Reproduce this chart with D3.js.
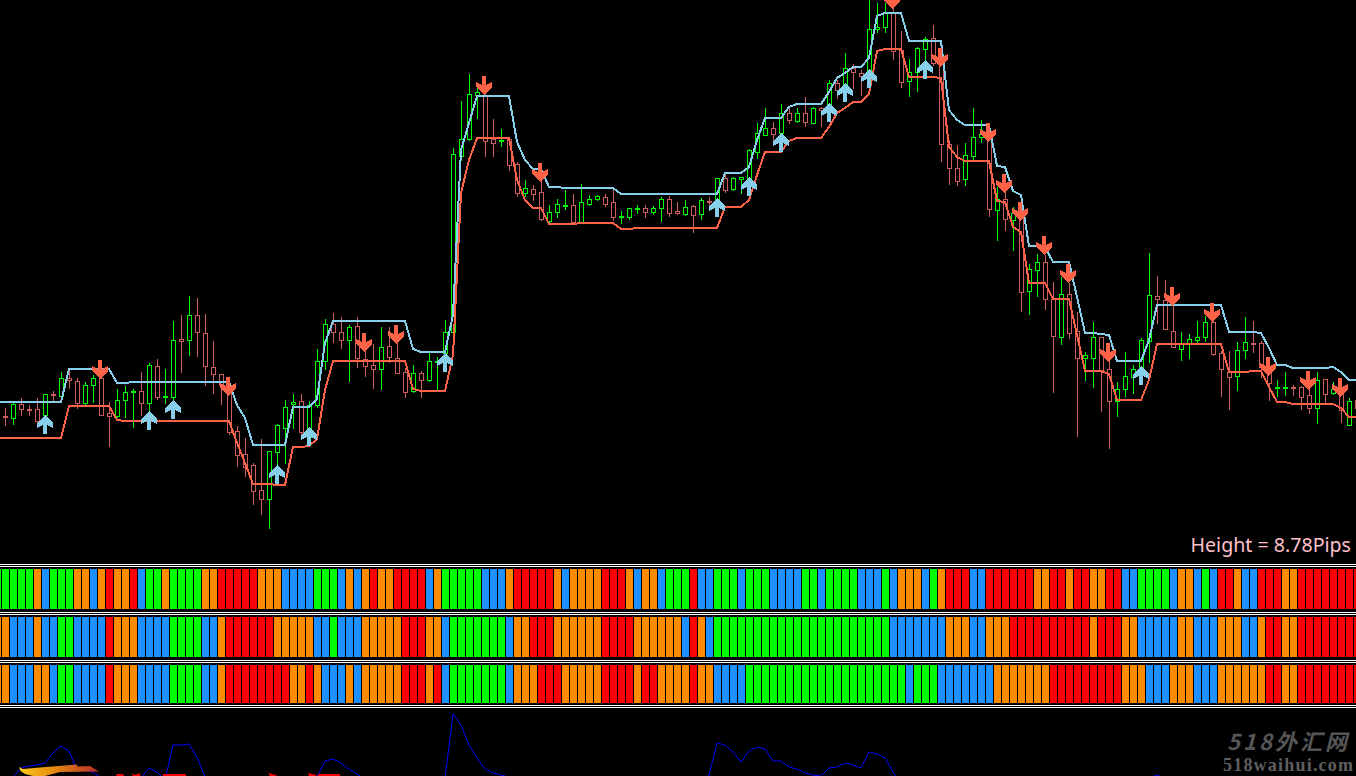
<!DOCTYPE html>
<html>
<head>
<meta charset="utf-8">
<style>
  html, body { margin: 0; padding: 0; background: #000; overflow: hidden; }
  svg { display: block; }
</style>
<script src="https://cdn.jsdelivr.net/npm/d3@7"></script>
</head>
<body>
<svg id="chart" width="1356" height="776"></svg>
<script>
// candles, ten bars a row, levels
var opens = [
  144,142,156,151,151,145,166,164,182,179,
  157,175,182,147,144,160,168,169,157,194,
  163,163,221,220,245,227,193,186,175,129,
  106,95,70,61,108,132,156,159,123,155,
  199,236,228,220,234,201,195,191,214,202,
  188,169,187,180,198,207,228,404,421,465,
  465,421,419,421,396,367,371,368,339,348,
  354,355,338,356,361,363,358,343,343,351,
  352,348,352,361,349,346,354,346,359,355,
  382,371,381,382,408,425,432,427,447,439,
  447,437,452,455,477,475,492,487,490,531,
  533,547,510,479,488,511,522,497,416,392,
  381,404,423,423,350,361,340,347,269,290,
  298,261,223,266,229,202,202,223,191,159,
  171,183,190,219,264,260,229,211,217,220,
  223,238,207,188,184,210,217,217,193,172,
  172,173,173,165,152,181,167,167,135,160
];
var closes = [
  143,156,151,150,139,166,165,182,180,157,
  175,182,145,144,160,168,169,157,195,163,
  164,220,219,245,228,194,186,175,128,105,
  93,69,61,109,135,153,158,128,155,199,
  236,228,220,233,202,194,191,213,203,187,
  168,187,180,199,199,228,406,421,466,468,
  419,417,420,395,367,372,366,341,348,356,
  355,338,358,361,364,356,343,344,352,352,
  348,352,361,347,347,353,345,360,358,382,
  370,382,383,410,427,432,426,447,440,447,
  438,452,450,477,470,492,488,484,531,533,
  547,509,478,488,512,521,497,416,392,379,
  405,423,426,351,361,341,347,268,291,298,
  261,224,266,227,202,205,223,190,159,171,
  184,191,220,265,261,231,213,217,221,223,
  238,206,191,183,210,218,216,193,177,173,
  173,172,163,152,180,166,171,150,159,152
];
var highs = [
  152,158,162,155,162,166,169,188,190,182,
  178,185,192,158,171,174,171,188,197,201,
  191,239,245,264,262,246,219,186,180,134,
  122,97,121,109,136,160,166,166,159,211,
  241,247,243,235,243,215,216,233,233,217,
  192,195,189,207,203,240,412,459,486,473,
  477,441,431,422,398,380,375,380,355,361,
  370,366,376,365,365,366,372,349,352,355,
  355,354,363,364,358,360,355,362,363,382,
  388,383,383,411,437,452,438,456,453,452,
  463,453,453,480,480,507,496,490,560,557,
  557,555,529,501,513,523,535,510,420,415,
  417,452,440,430,373,380,353,350,296,306,
  305,278,283,277,248,208,238,223,200,178,
  208,195,222,307,284,280,263,228,226,239,
  244,243,209,209,218,243,239,219,202,180,
  188,175,174,172,188,181,178,172,162,165
];
var lows = [
  135,136,145,145,136,140,158,160,172,152,
  156,158,145,114,143,143,133,145,148,161,
  157,160,188,205,204,175,167,156,126,94,
  84,56,46,32,93,97,132,123,115,153,
  191,218,212,179,193,184,172,171,198,187,
  163,168,163,179,170,200,220,400,420,442,
  404,404,414,390,364,364,360,340,336,343,
  351,337,338,355,360,354,340,337,341,347,
  343,346,339,344,346,345,328,341,353,350,
  368,370,367,375,402,425,420,425,437,438,
  434,437,434,448,462,470,472,465,485,528,
  528,501,473,464,469,497,495,399,376,375,
  375,400,418,344,320,330,310,249,246,264,
  251,168,216,222,124,180,173,149,112,144,
  164,167,187,198,237,231,213,200,202,217,
  219,205,164,151,170,202,208,183,160,164,
  165,165,151,147,137,158,166,138,135,145
];

// bands start one bar left of the window
var upperBand = [158,
  158,158,158,158,158,158,158,158,191,191,
  191,191,191,191,177,177,178,178,178,178,
  178,178,178,178,178,178,178,178,178,155,
  142,115,115,115,115,115,153,153,153,161,
  217,239,239,239,239,239,239,239,239,239,
  239,211,208,208,208,208,245,410,437,464,
  464,464,464,464,418,400,391,391,373,373,
  372,372,372,372,372,372,372,366,366,366,
  366,366,366,366,366,366,366,366,366,366,
  387,387,387,393,420,442,442,442,453,456,
  456,456,456,468,482,487,493,493,502,544,
  547,547,547,519,519,519,519,519,450,440,
  435,435,435,435,394,393,369,365,314,314,
  313,298,298,298,263,227,227,226,225,199,
  199,199,199,220,255,255,255,255,255,255,
  255,255,255,228,228,228,228,227,212,195,
  195,192,192,192,192,192,193,188,180,180
];
var lowerBand = [122,
  122,122,122,122,122,122,122,122,154,154,
  154,154,154,154,140,139,139,139,139,139,
  139,139,139,139,139,139,139,139,139,117,
  97,76,76,76,75,75,113,113,114,121,
  170,199,199,199,199,199,199,199,199,199,
  199,171,169,169,169,169,205,367,400,422,
  422,422,422,422,380,360,352,352,336,336,
  336,336,337,337,337,337,337,331,331,332,
  332,332,332,332,332,332,332,332,332,332,
  353,353,353,360,385,408,408,408,419,422,
  422,422,422,433,447,452,458,458,466,509,
  511,511,511,483,483,483,483,482,413,403,
  399,399,399,399,359,358,333,328,277,277,
  277,261,261,261,225,189,189,189,186,160,
  160,160,160,180,216,216,216,216,216,216,
  216,216,216,188,188,188,189,189,173,158,
  158,156,156,156,156,156,156,152,143,143
];

var upArrowBars = [5,18,21,34,38,55,89,93,97,103,105,108,115,142];
var upArrowLevels = [145,149,160,95,133,207,362,383,427,457,477,491,500,194];
var downArrowBars = [12,28,45,49,60,67,111,117,123,125,127,130,133,138,146,151,158,163,167];
var downArrowLevels = [181,164,208,216,465,378,551,493,418,367,339,305,277,198,254,238,184,170,163];

// G up strong, B up weak, O down weak, R down strong. first cell is the clipped bar
var strip1 = ("G" +
  "GGGGOBGGGO" + "OBOROORBGG" + "OGGGGOORRR" + "RROOOBBBBG" +
  "GGBOBOROOR" + "RRRBOGGGGG" + "BBBORRRRRO" + "BOOOORRROB" +
  "OOBGGGRBBG" + "GGBGGGBBBB" + "GGBGGGGBBB" + "GBOOOBGORR" +
  "RBBRRRRRRO" + "ORRORROORR" + "BBGGGGBOOB" + "GBRROBBRRR" + "OORRRRRRRR").split("");
var strip2 = ("O" +
  "OBBBOBBGGB" + "BBBROOOBBB" + "BGGGGBBORR" + "RRRROOOOOB" +
  "BGBBBOOOOO" + "RRROOBGGGG" + "GGGBOORRRO" + "OOOOORRRRO" +
  "OOOOOBROBG" + "GGGGGGGGGG" + "GGGGGGGGGG" + "GBBBBBBBOO" +
  "OBBOOORRRR" + "RRRRRRORRR" + "OOBBBBBOOB" + "BBOOOBBORR" + "OORRRRRRRR").split("");
var strip3 = ("O" +
  "OBBBOOBGGB" + "BBBROOOBBB" + "BGGGGBBORR" + "RRRRRROORO" +
  "BBBOBOOOOO" + "RRRORBGGGG" + "GGGBOOORRR" + "OOOOORRRRO" +
  "RROOOOROOB" + "BBBGGGGGGG" + "GGGGGGGGGG" + "GGGBGGGBBB" +
  "BBBBOOOOOO" + "ORRRRRRRRR" + "OOOBBBOOOB" + "BBOOOOOORR" + "OORRRRRRRR").split("");

// lower window line, null where it is under the window
var lowerLine = [
  null,-1,8,10,11,13,23,30,25,6,
  6,4,-2,null,null,null,null,-2,8,4,
  -4,31,31,32,19,-1,null,null,null,null,
  null,null,null,null,null,null,null,null,null,-1,
  15,17,13,7,2,-3,null,null,null,null,
  null,null,null,null,null,-2,62,51,31,18,
  7,3,1,-1,null,null,null,null,null,null,
  null,null,null,null,null,null,null,null,null,null,
  null,null,null,null,null,null,null,-8,1,33,
  31,24,14,25,29,27,15,15,9,7,
  3,1,0,8,9,13,11,8,24,22,
  18,4,-9,null,null,null,null,null,null,null,
  null,null,null,null,null,null,null,null,null,null,
  null,null,null,null,null,null,null,null,null,null,
  null,null,null,-2,1,-2,null,null,null,null,
  null,null,null,null,null,null,null,null,null,null,
  null,null,null,null,null,null,null,null,null,null
];

var stripTops = [569, 617, 665];
var stripHeights = [40, 40, 38];
var ruleRows = [564, 566, 612, 614, 660, 662, 705, 707];

const svg = d3.select("#chart");
const x = d3.scaleLinear().domain([0, 169]).range([5.5, 1357.5]);
const y = d3.scaleLinear().domain([0, 560]).range([560, 0]);
const yLower = d3.scaleLinear().domain([0, 62]).range([776, 714]);
const stripColor = d3.scaleOrdinal()
  .domain(["G", "B", "O", "R"])
  .range(["#00FF00", "#1E90FF", "#FF8C00", "#FF0000"]);

svg.append("rect").attr("width", 1356).attr("height", 776).attr("fill", "#000");

const bars = d3.range(opens.length);
const candleColor = i => closes[i] >= opens[i] ? "#00FF00" : "#CD5C5C";

// candles
const candles = svg.append("g").attr("shape-rendering", "crispEdges");
candles.selectAll("line")
  .data(bars)
  .enter()
  .append("line")
  .attr("x1", i => x(i))
  .attr("x2", i => x(i))
  .attr("y1", i => y(highs[i]))
  .attr("y2", i => y(lows[i]) + 1)
  .attr("stroke", candleColor);
candles.selectAll("rect")
  .data(bars)
  .enter()
  .append("rect")
  .attr("x", i => x(i) - 2)
  .attr("width", 4)
  .attr("y", i => y(Math.max(opens[i], closes[i])) + 0.5)
  .attr("height", i => Math.abs(opens[i] - closes[i]))
  .attr("fill", "#000")
  .attr("stroke", candleColor);

// bands
function drawBand(values, color) {
  const line = d3.line()
    .x((d, i) => x(i - 1) - 0.5)
    .y(d => y(d));
  svg.append("path")
    .attr("d", line(values))
    .attr("fill", "none")
    .attr("stroke", color)
    .attr("stroke-width", 2)
    .attr("shape-rendering", "crispEdges");
}
drawBand(upperBand, "#87CEEB");
drawBand(lowerBand, "#FF6347");

// arrows, tip sits on the level
function arrowPath(tx, ty, dir) {
  const p = d3.path();
  p.moveTo(tx, ty);
  p.lineTo(tx + 8, ty + dir * 8);
  p.lineTo(tx + 8, ty + dir * 13);
  p.lineTo(tx + 2, ty + dir * 10);
  p.lineTo(tx + 2, ty + dir * 19);
  p.lineTo(tx - 2, ty + dir * 19);
  p.lineTo(tx - 2, ty + dir * 10);
  p.lineTo(tx - 8, ty + dir * 13);
  p.lineTo(tx - 8, ty + dir * 8);
  p.closePath();
  return p.toString();
}
svg.append("g").selectAll("path")
  .data(upArrowBars)
  .enter()
  .append("path")
  .attr("d", (b, i) => arrowPath(Math.floor(x(b)), y(upArrowLevels[i]), 1))
  .attr("fill", "#87CEEB")
  .attr("shape-rendering", "crispEdges");
svg.append("g").selectAll("path")
  .data(downArrowBars)
  .enter()
  .append("path")
  .attr("d", (b, i) => arrowPath(Math.floor(x(b)) - 1, y(downArrowLevels[i]), -1))
  .attr("fill", "#FF6347")
  .attr("shape-rendering", "crispEdges");

svg.append("text")
  .attr("x", 1351)
  .attr("y", 552)
  .attr("text-anchor", "end")
  .attr("font-family", "'Noto Sans', sans-serif")
  .attr("font-size", 19.6)
  .attr("fill", "#FFC0CB")
  .text("Height = 8.78Pips");

// white rules round the strips
svg.append("g").selectAll("rect")
  .data(ruleRows)
  .enter()
  .append("rect")
  .attr("x", 0)
  .attr("y", d => d)
  .attr("width", 1356)
  .attr("height", 1)
  .attr("fill", "#fff");

[strip1, strip2, strip3].forEach((strip, s) => {
  svg.append("g")
    .attr("shape-rendering", "crispEdges")
    .selectAll("rect")
    .data(strip)
    .enter()
    .append("rect")
    .attr("x", (d, i) => x(i - 1) - 3.5)
    .attr("y", stripTops[s])
    .attr("width", 7)
    .attr("height", stripHeights[s])
    .attr("fill", d => stripColor(d));
});

// lower window
const lowerPath = d3.line()
  .defined(d => d !== null)
  .x((d, i) => x(i) - 0.5)
  .y(d => yLower(d));
svg.append("path")
  .attr("d", lowerPath(lowerLine))
  .attr("fill", "none")
  .attr("stroke", "#0000FF")
  .attr("stroke-width", 1);

// site logo at the bottom, cut off by the window
const defs = svg.append("defs");
const grad = defs.append("linearGradient").attr("id", "flame");
grad.append("stop").attr("offset", "0%").attr("stop-color", "#FFC81E");
grad.append("stop").attr("offset", "40%").attr("stop-color", "#E8900F");
grad.append("stop").attr("offset", "100%").attr("stop-color", "#B22A2A");
svg.append("path")
  .attr("d", "M19,767L23,769L40,767.5L77,764.5L77.5,766.5L90,766L99,771.5L60,772L45,776L33,776L25,774L20.5,771Z")
  .attr("fill", "url(#flame)");
svg.append("path")
  .attr("d", "M116,774L123,774L124,776L117,776ZM132,773L135,775L140,773L140,776L133,776ZM163,774L186,774L186,776L163,776ZM268,773L276,775L277,776L270,776ZM308,773L316,775L317,776L309,776ZM318,774L340,774L340,776L318,776Z")
  .attr("fill", "#FF0000");

svg.append("text")
  .attr("x", 1227)
  .attr("y", 750)
  .attr("textLength", 120)
  .attr("font-family", "'Noto Sans CJK SC', sans-serif")
  .attr("font-size", 22)
  .attr("font-style", "italic")
  .attr("font-weight", 700)
  .attr("fill", "#555")
  .text("518外汇网");
svg.append("text")
  .attr("x", 1223)
  .attr("y", 771)
  .attr("textLength", 130)
  .attr("font-family", "'Liberation Serif', serif")
  .attr("font-size", 18)
  .attr("font-weight", 700)
  .attr("fill", "#5F5F5F")
  .text("518waihui.com");
</script>
</body>
</html>
